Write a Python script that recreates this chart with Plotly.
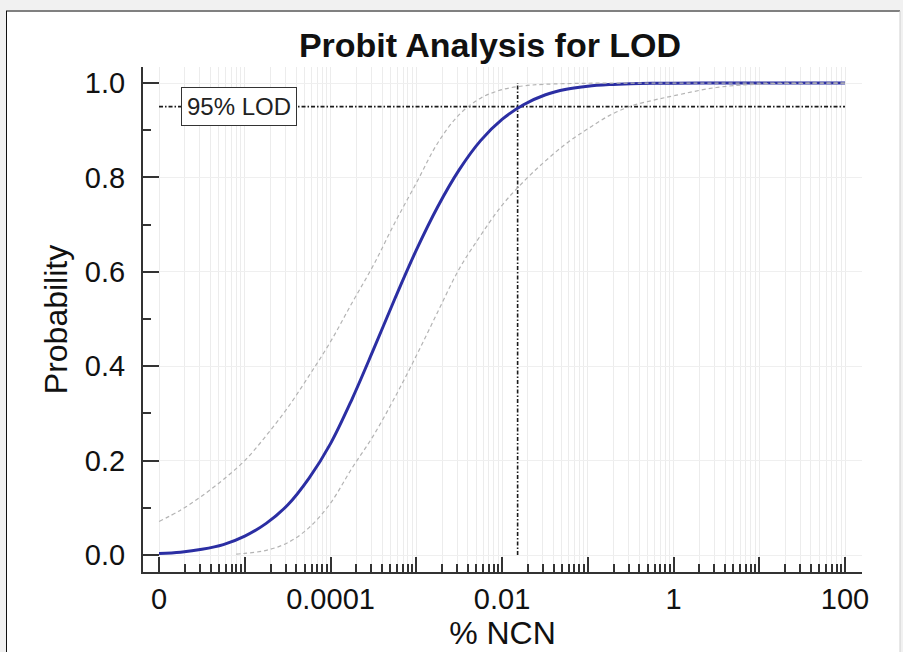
import math
import plotly.graph_objects as go

# ---- data ----
# sample positions as log10(% NCN)
fit_exp = [-6.0, -5.75, -5.5, -5.25, -5.0, -4.75, -4.5, -4.25, -4.0, -3.75, -3.5, -3.25,
           -3.0, -2.75, -2.5, -2.25, -2.0, -1.75, -1.5, -1.25, -1.0, -0.75, -0.5, -0.25,
           0.0, 0.5, 1.0, 1.5, 2.0]
fit_prob = [0.003, 0.006, 0.012, 0.022, 0.040, 0.067, 0.106, 0.163, 0.236, 0.330, 0.435, 0.543,
            0.646, 0.738, 0.816, 0.878, 0.923, 0.954, 0.9746, 0.9867, 0.9934, 0.9969, 0.9987,
            0.9995, 0.9998, 1.0, 1.0, 1.0, 1.0]

upper_exp = [-6.0, -5.75, -5.5, -5.25, -5.0, -4.75, -4.5, -4.25, -4.0, -3.75, -3.5, -3.25,
             -3.0, -2.75, -2.5, -2.25, -2.0, -1.75, -1.5, -1.0, -0.5, 0.0, 1.0, 2.0]
upper_prob = [0.071, 0.095, 0.125, 0.160, 0.200, 0.253, 0.312, 0.380, 0.452, 0.534, 0.614, 0.704,
              0.788, 0.873, 0.933, 0.968, 0.986, 0.994, 0.9974, 0.9995, 1.0, 1.0, 1.0, 1.0]

lower_exp = [-5.1, -5.0, -4.75, -4.5, -4.25, -4.0, -3.75, -3.5, -3.25, -3.0, -2.75, -2.5,
             -2.25, -2.0, -1.75, -1.5, -1.25, -1.0, -0.75, -0.5, -0.25, 0.0, 0.5, 1.0, 1.5, 2.0]
lower_prob = [0.002, 0.0035, 0.0099, 0.026, 0.058, 0.110, 0.184, 0.253, 0.334, 0.422, 0.515,
              0.606, 0.677, 0.741, 0.791, 0.834, 0.872, 0.903, 0.931, 0.951, 0.963, 0.973,
              0.9906, 0.9978, 0.9995, 0.9999]

lod_x = 0.0152
lod_p = 0.95
x_min, x_max = 1e-6, 100

tick_vals = [1e-6, 1e-5, 1e-4, 1e-3, 1e-2, 1e-1, 1, 10, 100]
tick_text = ['0', '', '0.0001', '', '0.01', '', '1', '', '100']
minor_vals = [k * 10.0 ** d for d in range(-6, 2) for k in range(2, 10)]

fit_x = [10 ** e for e in fit_exp]
upper_x = [10 ** e for e in upper_exp]
lower_x = [10 ** e for e in lower_exp]

FONT = "Liberation Sans, Arial, sans-serif"
INK = '#111111'
DASHDOT = '4px,2px,1.5px,2px'

fig = go.Figure()

# LOD reference lines
fig.add_trace(go.Scatter(x=[x_min, x_max], y=[lod_p, lod_p], mode='lines',
                         line=dict(color='#1a1a1a', width=1.6, dash=DASHDOT),
                         hoverinfo='skip', showlegend=False))
fig.add_trace(go.Scatter(x=[lod_x, lod_x], y=[0, 1], mode='lines',
                         line=dict(color='#1a1a1a', width=1.6, dash=DASHDOT),
                         hoverinfo='skip', showlegend=False))

# fitted probit curve
fig.add_trace(go.Scatter(x=fit_x, y=fit_prob, mode='lines', line_shape='spline',
                         line=dict(color='#2b2ea3', width=3), showlegend=False))
# confidence bounds
fig.add_trace(go.Scatter(x=upper_x, y=upper_prob, mode='lines', line_shape='spline',
                         line=dict(color='#b4b4b4', width=1.2, dash='4px,3px'), showlegend=False))
fig.add_trace(go.Scatter(x=lower_x, y=lower_prob, mode='lines', line_shape='spline',
                         line=dict(color='#b4b4b4', width=1.2, dash='4px,3px'), showlegend=False))

# panel frame (pixel geometry -> paper coords)
L, R, T, B = 143, 862, 67, 572
W, H = R - L, B - T
def px(xp):
    return (xp - L) / W
def py(yp):
    return (B - yp) / H

shapes = [
    dict(type='rect', xref='paper', yref='paper', x0=px(6), x1=px(900), y0=py(700), y1=py(11),
         fillcolor='white', line=dict(width=0), layer='below'),
    dict(type='line', xref='paper', yref='paper', x0=px(6), x1=px(900), y0=py(11), y1=py(11),
         line=dict(color='#808080', width=2), layer='below'),
    dict(type='line', xref='paper', yref='paper', x0=px(6.5), x1=px(6.5), y0=py(700), y1=py(11),
         line=dict(color='#111111', width=1), layer='below'),
    dict(type='line', xref='paper', yref='paper', x0=px(900), x1=px(900), y0=py(700), y1=py(11),
         line=dict(color='#d0d0d0', width=1), layer='below'),
]

fig.update_layout(
    width=903, height=652,
    margin=dict(l=L, r=903 - R, t=T, b=652 - B, autoexpand=False),
    paper_bgcolor='#f1f1f1', plot_bgcolor='white',
    font=dict(family=FONT, color=INK),
    title=dict(text='<b>Probit Analysis for LOD</b>', x=490 / 903, xanchor='center',
               y=1 - 45 / 652, yanchor='middle', yref='container',
               font=dict(size=34, family=FONT, color=INK)),
    shapes=shapes,
    annotations=[dict(x=math.log10(8.6e-6), y=lod_p, xref='x', yref='y', text='95% LOD',
                      showarrow=False, font=dict(size=24, family=FONT, color='#222222'),
                      bgcolor='white', bordercolor='#333333', borderwidth=1, borderpad=5)],
    xaxis=dict(type='log', range=[math.log10(x_min) - 0.187, math.log10(x_max) + 0.198],
               tickmode='array', tickvals=tick_vals, ticktext=tick_text,
               ticks='inside', ticklen=15, tickwidth=2, tickcolor='#333333',
               showline=True, linecolor='#333333', linewidth=2, mirror=False,
               showgrid=True, gridcolor='#ececec', gridwidth=1, zeroline=False,
               tickfont=dict(size=29, family=FONT, color=INK),
               title=dict(text='% NCN', font=dict(size=32, family=FONT, color=INK), standoff=2),
               minor=dict(tickmode='array', tickvals=minor_vals, ticks='inside', ticklen=8,
                          tickwidth=1.5, tickcolor='#333333', showgrid=True,
                          gridcolor='#ececec', gridwidth=1)),
    yaxis=dict(range=[-0.036, 1.034], tickmode='linear', tick0=0, dtick=0.2, tickformat='.1f',
               ticks='inside', ticklen=16, tickwidth=2, tickcolor='#333333',
               showline=True, linecolor='#333333', linewidth=2,
               showgrid=True, gridcolor='#efefef', gridwidth=1, zeroline=False,
               tickfont=dict(size=29, family=FONT, color=INK), ticklabelstandoff=10,
               title=dict(text='Probability', font=dict(size=32, family=FONT, color=INK), standoff=8),
               minor=dict(dtick=0.1, ticks='inside', ticklen=8, tickwidth=2,
                          tickcolor='#333333', showgrid=False)),
)

fig.write_html("out.html", config={'displayModeBar': False},
               post_script="document.body.style.margin='0px';"
                           "document.body.style.background='#f1f1f1';")
